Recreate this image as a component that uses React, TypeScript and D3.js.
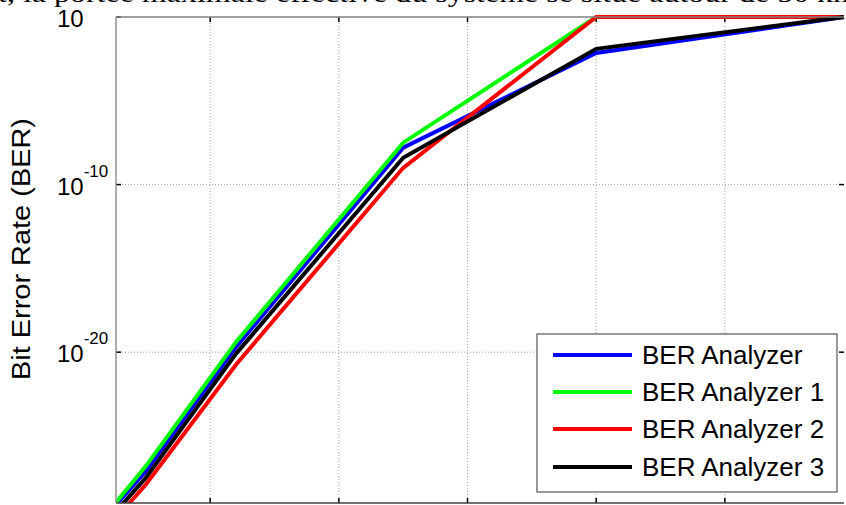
import React from "react";
import * as d3 from "d3";

const xValues = [12, 15, 22, 35, 50, 69.26];
const seriesNames = ["BER Analyzer", "BER Analyzer 1", "BER Analyzer 2", "BER Analyzer 3"];
const seriesColors = ["#0000ff", "#00ff00", "#ff0000", "#000000"];
// log10(BER) values
const berAnalyzer = [-29.7, -27.1, -19.7, -7.8, -2.15, 0];
const berAnalyzer1 = [-29.6, -26.8, -19.4, -7.5, 0, 0];
const berAnalyzer2 = [-30.5, -27.9, -20.75, -9.0, 0, 0];
const berAnalyzer3 = [-30.1, -27.5, -20.1, -8.4, -1.9, 0];
const xTicks = [20, 30, 40, 50, 60];
const yTicks = [0, -10, -20];
const yTickLabels = ["10", "10", "10"];
const yTickSups = ["", "-10", "-20"];
const yLabel = "Bit Error Rate (BER)";
const headerText = "t, la portée maximale effective du système se situe autour de 50 km";

const W = 846, H = 505;
const L = 116, R = 844, T = 17, B = 503;

export default function App() {
  const x = d3.scaleLinear().domain([12.68, 69.26]).range([L, R]);
  const y = d3.scaleLog().domain([1e-29, 1]).range([B, T]);
  const allSeries = [berAnalyzer, berAnalyzer1, berAnalyzer2, berAnalyzer3];
  const line = d3
    .line<number>()
    .x((_, i) => x(xValues[i]))
    .y((v) => y(Math.pow(10, v)));
  const font = "'Liberation Sans', Arial, sans-serif";
  const legX = 537, legY = 334, legW = 300, legH = 158;
  const rowY = [355, 392, 429, 467];
  return (
    <svg
      width={W}
      height={H}
      style={{ position: "absolute", left: 0, top: 0, background: "#fff" }}
      fontFamily={font}
    >
      <rect width={W} height={H} fill="#fff" />
      <defs>
        <clipPath id="plotclip">
          <rect x={L} y={0} width={R - L + 4} height={B} />
        </clipPath>
      </defs>
      {/* grid */}
      {xTicks.map((t) => (
        <line key={"gx" + t} x1={x(t)} x2={x(t)} y1={T} y2={B} stroke="#a0a0a0" strokeWidth={1} strokeDasharray="1,2" />
      ))}
      {yTicks.slice(1).map((t) => (
        <line key={"gy" + t} x1={L} x2={R} y1={y(Math.pow(10, t))} y2={y(Math.pow(10, t))} stroke="#a0a0a0" strokeWidth={1} strokeDasharray="1,2" />
      ))}
      {/* ticks */}
      {xTicks.map((t) => (
        <g key={"tx" + t}>
          <line x1={x(t)} x2={x(t)} y1={B} y2={B - 5} stroke="#000" strokeWidth={1.5} />
          <line x1={x(t)} x2={x(t)} y1={T} y2={T + 5} stroke="#000" strokeWidth={1.5} />
        </g>
      ))}
      {yTicks.map((t) => (
        <g key={"ty" + t}>
          <line x1={L} x2={L + 5} y1={y(Math.pow(10, t))} y2={y(Math.pow(10, t))} stroke="#000" strokeWidth={1.5} />
          <line x1={R} x2={R - 5} y1={y(Math.pow(10, t))} y2={y(Math.pow(10, t))} stroke="#000" strokeWidth={1.5} />
        </g>
      ))}
      {/* lines */}
      <g clipPath="url(#plotclip)">
        {allSeries.map((s, i) => (
          <path key={i} d={line(s) || ""} fill="none" stroke={seriesColors[i]} strokeWidth={4} strokeLinejoin="miter" />
        ))}
      </g>
      {/* axes box */}
      <line x1={L} x2={R} y1={T} y2={T} stroke="#808080" strokeWidth={1.5} />
      <line x1={L} x2={R} y1={B} y2={B} stroke="#404040" strokeWidth={1.5} />
      <line x1={L} x2={L} y1={T} y2={B} stroke="#909090" strokeWidth={1.5} />
      {/* y tick labels */}
      {yTicks.map((t, i) => (
        <text key={"yl" + t} x={57} y={y(Math.pow(10, t)) + 10} fontSize={24} fill="#000">
          {yTickLabels[i]}
          {yTickSups[i] && (
            <tspan dy={-18} fontSize={17}>
              {yTickSups[i]}
            </tspan>
          )}
        </text>
      ))}
      {/* y label */}
      <text
        transform={`translate(30,249) rotate(-90)`}
        textAnchor="middle"
        fontSize={25}
        fill="#000"
        textLength={262}
        lengthAdjust="spacingAndGlyphs"
      >
        {yLabel}
      </text>
      {/* legend */}
      <rect x={legX} y={legY} width={legW} height={legH} fill="#fff" stroke="#555" strokeWidth={1.2} />
      {seriesNames.map((n, i) => (
        <g key={n}>
          <line x1={553} x2={632} y1={rowY[i]} y2={rowY[i]} stroke={seriesColors[i]} strokeWidth={4} />
          <text x={642} y={rowY[i] + 9} fontSize={26} fill="#000">
            {n}
          </text>
        </g>
      ))}
      {/* header text from document */}
      <text x={-2} y={2} fontFamily="'Liberation Serif', 'Times New Roman', serif" fontSize={25} fill="#000" textLength={860} lengthAdjust="spacingAndGlyphs">
        {headerText}
      </text>
    </svg>
  );
}
